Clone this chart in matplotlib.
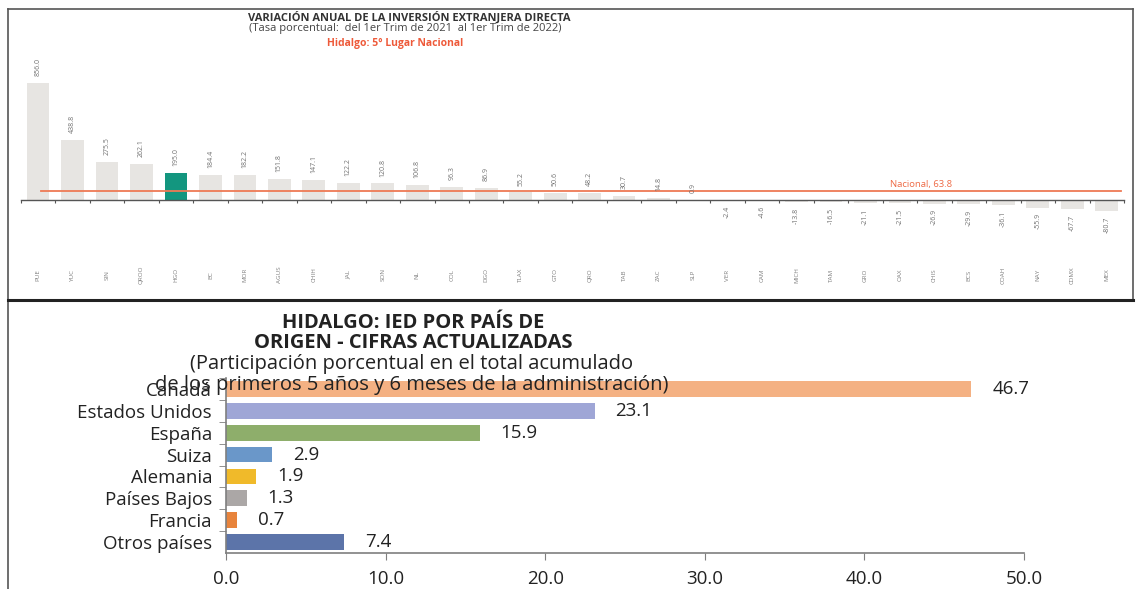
import matplotlib
matplotlib.use("Agg")
import matplotlib.pyplot as plt
from matplotlib.lines import Line2D

# ---------------- data: top chart ----------------
states = ["PUE", "YUC", "SIN", "QROO", "HGO", "BC", "MOR", "AGUS", "CHIH", "JAL",
          "SON", "NL", "COL", "DGO", "TLAX", "GTO", "QRO", "TAB", "ZAC", "SLP",
          "VER", "CAM", "MICH", "TAM", "GRO", "OAX", "CHIS", "BCS", "COAH", "NAY",
          "CDMX", "MEX"]
variation = [856.0, 438.8, 275.5, 262.1, 195.0, 184.4, 182.2, 151.8, 147.1, 122.2,
             120.8, 106.8, 96.3, 86.9, 55.2, 50.6, 48.2, 30.7, 14.8, 0.9,
             -2.4, -4.6, -13.8, -16.5, -21.1, -21.5, -26.9, -29.9, -36.1, -55.9,
             -67.7, -80.7]
highlight = "HGO"
national = 63.8

# ---------------- data: bottom chart ----------------
countries = ["Canadá", "Estados Unidos", "España", "Suiza", "Alemania",
             "Países Bajos", "Francia", "Otros países"]
shares = [46.7, 23.1, 15.9, 2.9, 1.9, 1.3, 0.7, 7.4]
country_colors = ["#F4B183", "#9FA6D6", "#8EAE6B", "#6A97C9", "#F0BA2A",
                  "#ABA7A6", "#E8843C", "#5C74A9"]
xticks = [0, 10, 20, 30, 40, 50]

plt.rcParams['font.family'] = ['Open Sans', 'DejaVu Sans']

W, H = 1137, 589
fig = plt.figure(figsize=(W / 100, H / 100), dpi=100)

def fx(px):
    return px / W

def fy(py):
    return 1 - py / H

# ---------------- frames ----------------
frame_kw = dict(transform=fig.transFigure, color="#555555", lw=1.2)
fig.add_artist(Line2D([fx(8), fx(1133)], [fy(9), fy(9)], **frame_kw))
fig.add_artist(Line2D([fx(8), fx(8)], [fy(9), fy(589)], **frame_kw))
fig.add_artist(Line2D([fx(1133), fx(1133)], [fy(9), fy(300)], **frame_kw))
fig.add_artist(Line2D([fx(8), fx(1133)], [fy(300), fy(300)],
                      transform=fig.transFigure, color="#222222", lw=2.2))

# ---------------- top chart ----------------
ax1 = fig.add_axes([fx(20.8), fy(240), fx(1124) - fx(20.8), (240 - 60) / H])
n = len(states)
xs = list(range(n))
cols = ["#13967F" if s == highlight else "#E7E5E2" for s in states]
ax1.bar(xs, variation, width=0.66, color=cols, zorder=2)
ax1.set_xlim(-0.5, n - 0.5)
ax1.set_ylim(-293, 1025)
for sp in ["top", "right", "left"]:
    ax1.spines[sp].set_visible(False)
ax1.spines["bottom"].set_position(("data", 0))
ax1.spines["bottom"].set_color("#555555")
ax1.spines["bottom"].set_linewidth(1.0)
ax1.set_yticks([])
ax1.set_xticks([i - 0.5 for i in range(n + 1)])
ax1.tick_params(axis="x", length=2.5, width=0.8, color="#555555",
                labelbottom=False, direction="out")
ax1.plot([0.1, n - 0.6], [national, national], color="#EE7A55", lw=1.3, zorder=3)
ax1.text(25.6, national + 50, f"Nacional, {national}", color="#EE6A45",
         fontsize=6.8, ha="center", va="center")

for i, (s, v) in enumerate(zip(states, variation)):
    if v >= 0:
        ax1.annotate(f"{v:.1f}", xy=(i, v), xytext=(0, 5), textcoords="offset points",
                     rotation=90, ha="center", va="bottom", fontsize=5, color="#707070")
    else:
        ax1.annotate(f"{v:.1f}", xy=(i, v), xytext=(0, -4), textcoords="offset points",
                     rotation=90, ha="center", va="top", fontsize=5, color="#707070")
    ax1.annotate(s, xy=(i, 0), xytext=(0, -54), textcoords="offset points",
                 rotation=90, ha="center", va="center", fontsize=4.5, color="#808080")

fig.text(fx(409), fy(18), "VARIACIÓN ANUAL DE LA INVERSIÓN EXTRANJERA DIRECTA",
         ha="center", va="center", fontsize=8, fontweight="bold", color="#333333")
fig.text(fx(405), fy(28), "(Tasa porcentual:  del 1er Trim de 2021  al 1er Trim de 2022)",
         ha="center", va="center", fontsize=8, color="#444444")
fig.text(fx(395), fy(43), "Hidalgo: 5° Lugar Nacional",
         ha="center", va="center", fontsize=7.5, fontweight="bold", color="#EE5A3A")

# ---------------- bottom chart ----------------
ax2 = fig.add_axes([fx(226), fy(553), fx(1024) - fx(226), (553 - 378) / H])
ys = list(range(len(countries)))
ax2.barh(ys, shares, height=0.72, color=country_colors, zorder=2)
ax2.set_xlim(0, 50)
ax2.set_ylim(len(countries) - 0.5, -0.5)
ax2.spines["top"].set_visible(False)
ax2.spines["right"].set_visible(False)
for sp in ["left", "bottom"]:
    ax2.spines[sp].set_color("#7F7F7F")
    ax2.spines[sp].set_linewidth(1.2)
ax2.set_xticks(xticks)
ax2.set_xticklabels([f"{t:.1f}" for t in xticks], fontsize=13.5, color="#222222")
ax2.set_yticks(ys)
ax2.set_yticklabels(countries, fontsize=13.5, color="#222222")
ax2.set_yticks([y + 0.5 for y in ys[:-1]] + [-0.5], minor=True)
ax2.tick_params(axis="y", which="major", length=0, pad=10)
ax2.tick_params(axis="y", which="minor", length=5, color="#7F7F7F", direction="out")
ax2.tick_params(axis="x", length=5, color="#7F7F7F", direction="out", pad=7)
for y, v in zip(ys, shares):
    ax2.annotate(f"{v:.1f}", xy=(v, y), xytext=(15, 0), textcoords="offset points",
                 ha="left", va="center", fontsize=13.5, color="#222222")

fig.text(fx(413), fy(323), "HIDALGO: IED POR PAÍS DE", ha="center", va="center",
         fontsize=14.5, fontweight="bold", color="#222222")
fig.text(fx(413), fy(343), "ORIGEN - CIFRAS ACTUALIZADAS", ha="center", va="center",
         fontsize=14.5, fontweight="bold", color="#222222")
fig.text(fx(412), fy(364), "(Participación porcentual en el total acumulado",
         ha="center", va="center", fontsize=14.5, color="#222222")
fig.text(fx(412), fy(385), "de los primeros 5 años y 6 meses de la administración)",
         ha="center", va="center", fontsize=14.5, color="#222222", zorder=10)

fig.savefig("out.png", dpi=100)
